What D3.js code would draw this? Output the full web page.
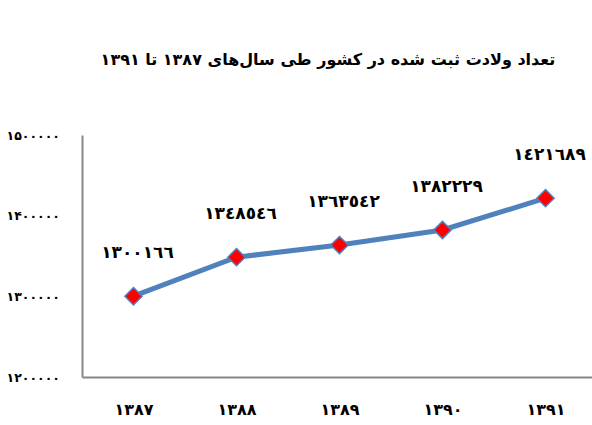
<!DOCTYPE html>
<html>
<head>
<meta charset="utf-8">
<script src="https://cdn.jsdelivr.net/npm/d3@7"></script>
<style>
  body { margin: 0; background: #fff; }
  text { font-family: "DejaVu Sans", sans-serif; fill: #000; }
</style>
</head>
<body>
<svg id="chart" width="592" height="425"></svg>
<script>
// data
var years = ["۱۳۸۷", "۱۳۸۸", "۱۳۸۹", "۱۳۹۰", "۱۳۹۱"];
var births = [1300166, 1348546, 1363542, 1382229, 1421689];
var pointLabels = ["١٣٠٠١٦٦", "١٣٤٨٥٤٦", "١٣٦٣٥٤٢", "١٣٨٢٢٢٩", "١٤٢١٦٨٩"];
var yTicks = [1200000, 1300000, 1400000, 1500000];
var yTickLabels = ["۱۲۰۰۰۰۰", "۱۳۰۰۰۰۰", "۱۴۰۰۰۰۰", "۱۵۰۰۰۰۰"];
var title = "تعداد ولادت ثبت شده در کشور طی سال‌های ۱۳۸۷ تا ۱۳۹۱";

var svg = d3.select("#chart");
var margin = {top: 135, right: -5, bottom: 48, left: 82};
var width = +svg.attr("width") - margin.left - margin.right,
    height = +svg.attr("height") - margin.top - margin.bottom;

var g = svg.append("g")
  .attr("transform", "translate(" + margin.left + "," + margin.top + ")");

var x = d3.scalePoint().domain(years).range([0, width]).padding(0.5);
var y = d3.scaleLinear().domain([1200000, 1500000]).range([height, 0]);

// title
svg.append("text")
  .attr("x", 328)
  .attr("y", 65)
  .attr("text-anchor", "middle")
  .attr("direction", "rtl")
  .style("font-size", "16px")
  .style("font-weight", "bold")
  .text(title);

// y axis
var yaxis = g.append("g")
  .attr("class", "axis axis--y")
  .call(d3.axisLeft(y).tickValues(yTicks).tickSize(0).tickPadding(22)
    .tickFormat(function(d, i) { return yTickLabels[i]; }));
yaxis.select(".domain").attr("stroke", "#868686").attr("stroke-width", 2);
yaxis.selectAll("text")
  .style("font-size", "12.5px")
  .style("font-weight", "bold")
  .style("font-family", "DejaVu Sans, sans-serif");

// x axis
var xaxis = g.append("g")
  .attr("class", "axis axis--x")
  .attr("transform", "translate(0," + height + ")")
  .call(d3.axisBottom(x).tickSize(0).tickPadding(27));
xaxis.select(".domain").attr("stroke", "#868686").attr("stroke-width", 2);
xaxis.selectAll("text")
  .style("font-size", "16px")
  .style("font-weight", "bold")
  .style("font-family", "DejaVu Sans, sans-serif");

// line
var line = d3.line()
  .x(function(d, i) { return x(years[i]); })
  .y(function(d) { return y(d); });

g.append("path")
  .datum(births)
  .attr("d", line)
  .attr("fill", "none")
  .attr("stroke", "#4F81BD")
  .attr("stroke-width", 5);

// markers
g.selectAll("path.marker")
  .data(births)
  .enter().append("path")
  .attr("class", "marker")
  .attr("d", d3.symbol().type(d3.symbolDiamond2).size(190))
  .attr("transform", function(d, i) { return "translate(" + x(years[i]) + "," + y(d) + ")"; })
  .attr("fill", "#FF0000")
  .attr("stroke", "#4F81BD")
  .attr("stroke-width", 1.5);

// data labels
g.selectAll("text.value")
  .data(births)
  .enter().append("text")
  .attr("class", "value")
  .attr("x", function(d, i) { return x(years[i]) + 4; })
  .attr("y", function(d) { return y(d) - 38; })
  .attr("text-anchor", "middle")
  .style("font-size", "17px")
  .style("font-weight", "bold")
  .text(function(d, i) { return pointLabels[i]; });
</script>
</body>
</html>
